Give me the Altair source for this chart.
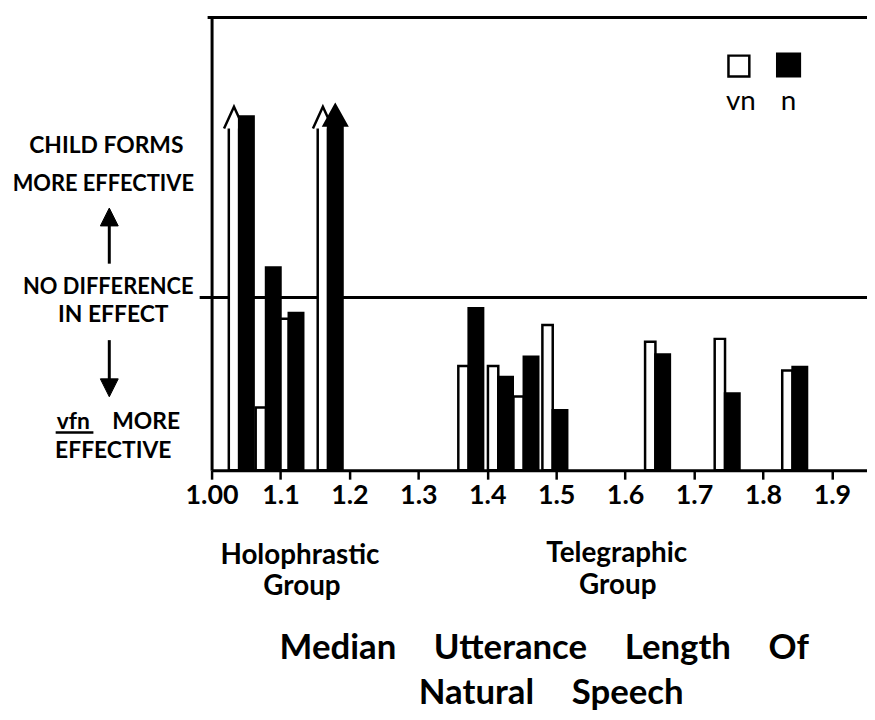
import altair as alt
import pandas as pd

# ---- data ----
# median utterance length at which each vn / n pair sits
mul = [1.040, 1.079, 1.112, 1.169, 1.373, 1.416, 1.453, 1.495, 1.644, 1.745, 1.843]
# relative effectiveness (0 = no difference; >0 child forms more effective)
vn = [3.31, -1.91, -0.37, 3.31, -1.19, -1.19, -1.72, -0.48, -0.77, -0.72, -1.27]
n = [3.14, 0.52, -0.27, 3.34, -0.19, -1.38, -1.03, -1.96, -0.99, -1.67, -1.21]
# bars that run off the scale (drawn as arrows)
vn_off = [True, False, False, True, False, False, False, False, False, False, False]
n_off = [False, False, False, True, False, False, False, False, False, False, False]

x_ticks = [1.0, 1.1, 1.2, 1.3, 1.4, 1.5, 1.6, 1.7, 1.8, 1.9]
tick_labels = ["1.00", "1.1", "1.2", "1.3", "1.4", "1.5", "1.6", "1.7", "1.8", "1.9"]
y_floor = -3.0
y_ceiling = 4.86
x_min, x_max = 1.0, 1.951

# ---- style ----
W, H = 660, 456
FONT = "Lato"
VN_W, N_W = 0.015, 0.021
VN_HEAD, N_HEAD = 0.24, 0.26

rows = []
for m, a, b, ao, bo in zip(mul, vn, n, vn_off, n_off):
    rows.append(dict(s="vn", x0=m - VN_W, x1=m, xc=m - VN_W / 2,
                     top=a - VN_HEAD if ao else a, tip=a, off=ao, base=y_floor))
    rows.append(dict(s="n", x0=m, x1=m + N_W, xc=m + N_W / 2,
                     top=b - N_HEAD if bo else b, tip=b, off=bo, base=y_floor))
df = pd.DataFrame(rows)
df_vn = df[df.s == "vn"]
df_n = df[df.s == "n"]

expr = "''"
for v, lab in reversed(list(zip(x_ticks, tick_labels))):
    expr = f"abs(datum.value - {v}) < 0.001 ? '{lab}' : ({expr})"

xs = alt.Scale(domain=[x_min, x_max], nice=False, zero=False)
ys = alt.Scale(domain=[y_floor, y_ceiling], nice=False, zero=False)
xax = alt.Axis(values=x_ticks, labelExpr=expr, title=None, grid=False,
               domainWidth=3, domainColor="black", tickColor="black",
               tickWidth=2.5, tickSize=9, labelFont=FONT, labelFontSize=27,
               labelFontWeight="bold", labelColor="black", labelPadding=4,
               labelFlush=False, labelOverlap=False)
yax = alt.Axis(title=None, grid=False, ticks=False, labels=False,
               domainWidth=3, domainColor="black")

one = alt.Data(values=[{}])

def bars(d, fill):
    return alt.Chart(d).mark_bar(fill=fill, stroke="black", strokeWidth=2.5).encode(
        x=alt.X("x0:Q", scale=xs, axis=xax), x2="x1:Q",
        y=alt.Y("top:Q", scale=ys, axis=yax), y2="base:Q")

def heads(d, shape, size, fill):
    return alt.Chart(d[d.off]).mark_point(
        shape=shape, size=size, filled=True, fill=fill, stroke="black",
        strokeWidth=2.5, opacity=1).encode(
        x=alt.X("xc:Q", scale=xs), y=alt.Y("tip:Q", scale=ys))

def label(text, x, y, size=22, weight="bold", align="center", baseline="middle"):
    return alt.Chart(one).mark_text(text=text, font=FONT, fontSize=size,
                                    fontWeight=weight, align=align,
                                    baseline=baseline, color="black").encode(
        x=alt.value(x), y=alt.value(y))

def prule(x, x2, y, y2=None, w=3):
    enc = dict(x=alt.value(x), y=alt.value(y))
    if x2 is not None:
        enc["x2"] = alt.value(x2)
    if y2 is not None:
        enc["y2"] = alt.value(y2)
    return alt.Chart(one).mark_rule(color="black", strokeWidth=w).encode(**enc)

def psym(shape, x, y, size, filled=True, sw=2.5):
    return alt.Chart(one).mark_point(shape=shape, size=size, filled=filled,
                                     fill="black" if filled else "white",
                                     stroke="black", strokeWidth=sw, opacity=1).encode(
        x=alt.value(x), y=alt.value(y))

zero_line = alt.Chart(one).mark_rule(color="black", strokeWidth=3).encode(
    x=alt.value(-12), x2=alt.value(W), y=alt.datum(0, scale=ys))
top_line = prule(-4, W, 0, w=3)

GAP = "\u2003\u2004"

layers = [
    zero_line, top_line,
    bars(df_vn, "white"),
    heads(df_vn, "M-1,2.2L0,0L1,2.2", 400, "white"),
    bars(df_n, "black"),
    heads(df_n, "M0,0L-1,1.8L1,1.8Z", 529, "black"),
    # left annotations
    label("CHILD FORMS", -106, 130, size=23),
    label("MORE EFFECTIVE", -109, 168),
    prule(-103, None, 248, 205),
    psym("M0,0L-1,2L1,2Z", -103, 192, 324, sw=1),
    label("NO DIFFERENCE", -104, 272),
    label("IN EFFECT", -99, 300, size=23),
    prule(-103, None, 325, 368),
    psym("M0,0L-1,-2L1,-2Z", -103, 382, 324, sw=1),
    label("vfn", -156, 407, size=23, align="left"),
    label("MORE", -100, 407, size=23, align="left"),
    prule(-157, -119, 418, w=2.5),
    label("EFFECTIVE", -99, 437, size=23),
    # legend
    psym("square", 531, 49, 441, filled=False),
    psym("square", 581, 48, 520, filled=True),
    label("vn", 533, 85, size=28, weight="normal"),
    label("n", 581, 85, size=28, weight="normal"),
    # group labels
    label("Holophrastic", 89, 550, size=28, baseline="alphabetic"),
    label("Group", 91, 582, size=28, baseline="alphabetic"),
    label("Telegraphic", 408, 548, size=28, baseline="alphabetic"),
    label("Group", 409, 581, size=28, baseline="alphabetic"),
    # axis title
    label(GAP.join(["Median", "Utterance", "Length", "Of"]), 335, 646,
          size=35, baseline="alphabetic"),
    label(GAP.join(["Natural", "Speech"]), 342, 691, size=35, baseline="alphabetic"),
]

chart = alt.layer(*layers).properties(
    width=W, height=H,
    autosize=alt.AutoSizeParams(type="none"),
    padding={"left": 205, "top": 7, "right": 0, "bottom": 241},
).configure_view(strokeWidth=0)

chart.save("out.html", embed_options={"renderer": "svg", "actions": False})
